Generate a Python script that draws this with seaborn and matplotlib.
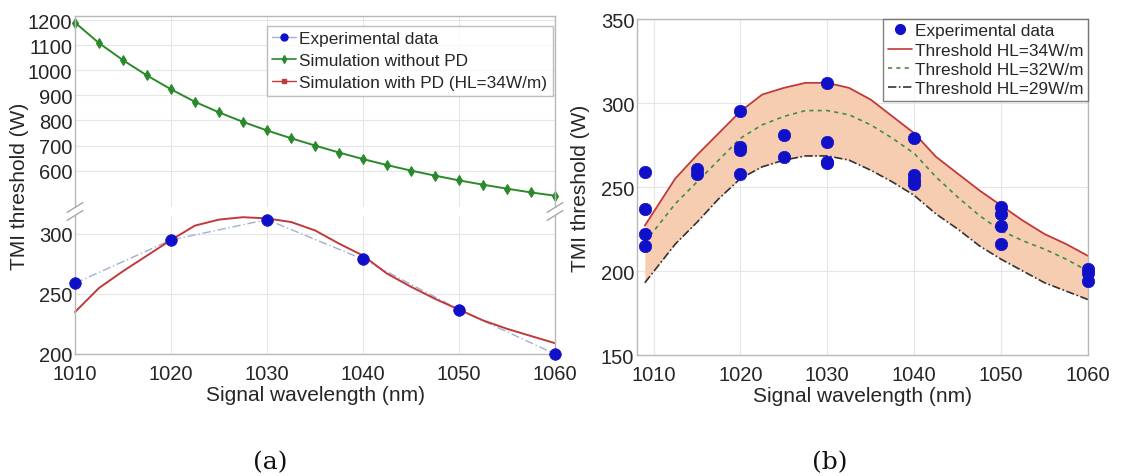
import numpy as np
import pandas as pd
import matplotlib
matplotlib.use("Agg")
import matplotlib.pyplot as plt
import seaborn as sns
from matplotlib.lines import Line2D

# ---------------- data ----------------
# panel (a)
exp_x_a = [1010, 1020, 1030, 1040, 1050, 1060]
exp_y_a = [259, 295, 312, 279, 237, 200]

sim_x = [1010, 1012.5, 1015, 1017.5, 1020, 1022.5, 1025, 1027.5, 1030, 1032.5,
         1035, 1037.5, 1040, 1042.5, 1045, 1047.5, 1050, 1052.5, 1055, 1057.5, 1060]
sim_nopd = [1190, 1108, 1040, 979, 924, 874, 832, 794, 760, 729,
            700, 672, 646, 622, 600, 580, 561, 544, 528, 513, 500]
sim_pd34 = [235, 255, 269, 282, 295, 307, 312, 314, 313, 310,
            303, 292, 282, 267, 256, 246, 237, 228, 221, 215, 209]

# panel (b)
exp_x_b = [1009, 1009, 1009, 1009, 1015, 1015, 1020, 1020, 1020, 1020, 1025, 1025,
           1030, 1030, 1030, 1030, 1040, 1040, 1040, 1040, 1050, 1050, 1050, 1050,
           1060, 1060, 1060]
exp_y_b = [259, 237, 222, 215, 261, 258, 295, 274, 272, 258, 281, 268,
           312, 277, 265, 264, 279, 257, 254, 252, 238, 234, 227, 216,
           201, 199, 194]

thr_x = [1009, 1012.5, 1015, 1017.5, 1020, 1022.5, 1025, 1027.5, 1030, 1032.5,
         1035, 1037.5, 1040, 1042.5, 1045, 1047.5, 1050, 1052.5, 1055, 1057.5, 1060]
thr_34 = [227, 255, 269, 282, 295, 305, 309, 312, 312, 309,
          302, 292, 282, 268, 258, 248, 239, 230, 222, 216, 209]
thr_32 = [217, 240, 253, 266, 279, 287, 292, 295.5, 295.5, 293,
          287, 279, 270, 256, 244, 233, 224, 218, 213, 207, 200]
thr_29 = [193, 216, 229, 243, 255, 262, 266, 268.5, 268.5, 266,
          260, 253, 245, 234, 225, 215, 207, 200, 193, 188, 183]

# ---------------- style ----------------
sns.set_theme(style="whitegrid")
plt.rcParams['font.family'] = ['Liberation Sans', 'DejaVu Sans']
TXT = "#262626"
SP = "#b8b8b8"
GRID = "#e6e6e6"
BLUE = "#1010c8"
GREEN = "#2a8a2a"
RED = "#c0393b"
FILL = "#f7cdb2"
EXPLINE = "#9fb0d0"

fig = plt.figure(figsize=(11.46, 4.77), dpi=100)
W, H = 1146, 477

def ax_at(x0, y0, x1, y1):
    return fig.add_axes([x0 / W, 1 - y1 / H, (x1 - x0) / W, (y1 - y0) / H])

def style(ax):
    ax.set_facecolor("white")
    for s in ax.spines.values():
        s.set_color(SP)
        s.set_linewidth(1.0)
    ax.grid(True, color=GRID, linewidth=0.8)
    ax.tick_params(axis="both", labelsize=14.5, colors=TXT, length=3,
                   direction="in", pad=2, color=SP)
    ax.tick_params(axis="x", pad=7)

# ---------------- panel (a) ----------------
ax_up = ax_at(75, 17, 555, 208)
ax_lo = ax_at(75, 217, 555, 355)

df_nopd = pd.DataFrame({"x": sim_x, "y": sim_nopd})
df_pd = pd.DataFrame({"x": sim_x, "y": sim_pd34})
df_exp_a = pd.DataFrame({"x": exp_x_a, "y": exp_y_a})

sns.lineplot(data=df_nopd, x="x", y="y", ax=ax_up, color=GREEN, lw=1.4,
             marker="d", markersize=5, markeredgecolor=GREEN, clip_on=False)
sns.lineplot(data=df_exp_a, x="x", y="y", ax=ax_lo, color=EXPLINE, lw=1.0,
             linestyle=(0, (6, 2, 1, 2)), clip_on=False)
sns.lineplot(data=df_pd, x="x", y="y", ax=ax_lo, color=RED, lw=1.4, clip_on=False)
sns.scatterplot(data=df_exp_a, x="x", y="y", ax=ax_lo, color=BLUE, s=70,
                edgecolor=BLUE, linewidth=0.5, zorder=5, clip_on=False)

ax_up.set_xlim(1010, 1060)
ax_lo.set_xlim(1010, 1060)
ax_up.set_ylim(455, 1216)
ax_lo.set_ylim(200, 315)
ax_up.set_yticks([600, 700, 800, 900, 1000, 1100, 1200])
ax_lo.set_yticks([200, 250, 300])
ax_lo.set_xticks([1010, 1020, 1030, 1040, 1050, 1060])
ax_up.set_xticks([1010, 1020, 1030, 1040, 1050, 1060])
style(ax_up)
style(ax_lo)
ax_up.tick_params(labelbottom=False)
ax_up.spines["bottom"].set_visible(False)
ax_lo.spines["top"].set_visible(False)
ax_up.tick_params(axis="x", length=0)
ax_up.set_xlabel("")
ax_up.set_ylabel("")
ax_lo.set_ylabel("")
ax_lo.set_xlabel("Signal wavelength (nm)", fontsize=15, color=TXT, labelpad=2)

# break marks
for xp in (75, 555):
    for dy in (-4, 4):
        yc = 212.5 + dy
        fig.add_artist(Line2D([(xp - 8) / W, (xp + 8) / W],
                              [1 - (yc + 5) / H, 1 - (yc - 5) / H],
                              color="#a8a8a8", lw=1.0))

fig.text(20 / W, 1 - 186 / H, "TMI threshold (W)", rotation=90, fontsize=15,
         color=TXT, ha="center", va="center")

# legend (a)
hA = [Line2D([], [], color=EXPLINE, lw=1.0, marker="o", markersize=5,
             markerfacecolor=BLUE, markeredgecolor=BLUE),
      Line2D([], [], color=GREEN, lw=1.2, marker="d", markersize=4,
             markerfacecolor=GREEN, markeredgecolor=GREEN),
      Line2D([], [], color=RED, lw=1.0, marker="s", markersize=3,
             markerfacecolor=RED, markeredgecolor=RED)]
lA = ["Experimental data", "Simulation without PD", "Simulation with PD (HL=34W/m)"]
legA = ax_up.legend(hA, lA, loc="upper right", bbox_to_anchor=(0.995, 0.95),
                    fontsize=12.4, frameon=True, fancybox=False, handlelength=1.4,
                    handletextpad=0.2, borderpad=0.3, labelspacing=0.42,
                    borderaxespad=0.0)
legA.get_frame().set_edgecolor("#b0b0b0")
legA.get_frame().set_linewidth(1.0)
for t in legA.get_texts():
    t.set_color(TXT)

# ---------------- panel (b) ----------------
axb = ax_at(637, 20, 1088, 356)
df_thr = pd.DataFrame({"x": thr_x, "a": thr_34, "b": thr_32, "c": thr_29})
df_exp_b = pd.DataFrame({"x": exp_x_b, "y": exp_y_b})

axb.fill_between(df_thr["x"], df_thr["c"], df_thr["a"], color=FILL, lw=0, zorder=1)
sns.lineplot(data=df_thr, x="x", y="a", ax=axb, color=RED, lw=1.3, zorder=2)
sns.lineplot(data=df_thr, x="x", y="b", ax=axb, color="#3f8f3f", lw=1.2,
             linestyle=(0, (2.5, 2.5)), zorder=2)
sns.lineplot(data=df_thr, x="x", y="c", ax=axb, color="#333333", lw=1.2,
             linestyle=(0, (5, 1.5, 1, 1.5)), zorder=2)
sns.scatterplot(data=df_exp_b, x="x", y="y", ax=axb, color=BLUE, s=80,
                edgecolor=BLUE, linewidth=0.5, zorder=5, clip_on=False)
axb.set_xlim(1008.1, 1060)
axb.set_ylim(150, 350)
axb.set_xticks([1010, 1020, 1030, 1040, 1050, 1060])
axb.set_yticks([150, 200, 250, 300, 350])
style(axb)
axb.set_xlabel("Signal wavelength (nm)", fontsize=15, color=TXT, labelpad=2)
axb.set_ylabel("TMI threshold (W)", fontsize=15, color=TXT, labelpad=8)

hB = [Line2D([], [], ls="none", marker="o", markersize=7, markerfacecolor=BLUE,
             markeredgecolor=BLUE),
      Line2D([], [], color=RED, lw=1.2),
      Line2D([], [], color="#3f8f3f", lw=1.2, linestyle=(0, (2.5, 2.5))),
      Line2D([], [], color="#333333", lw=1.2, linestyle=(0, (5, 1.5, 1, 1.5)))]
lB = ["Experimental data", "Threshold HL=34W/m", "Threshold HL=32W/m",
      "Threshold HL=29W/m"]
legB = axb.legend(hB, lB, loc="upper right", bbox_to_anchor=(1.0, 1.0),
                  fontsize=12.4, frameon=True, fancybox=False, handlelength=1.4,
                  handletextpad=0.2, borderpad=0.25, labelspacing=0.25,
                  borderaxespad=0.0)
legB.get_frame().set_edgecolor("#606060")
legB.get_frame().set_linewidth(1.0)
for t in legB.get_texts():
    t.set_color(TXT)

# captions
fig.text(270 / W, 1 - 463 / H, "(a)", fontsize=18, family="DejaVu Serif",
         ha="center", va="center", color="#111111")
fig.text(830 / W, 1 - 463 / H, "(b)", fontsize=18, family="DejaVu Serif",
         ha="center", va="center", color="#111111")

fig.savefig("out.png", dpi=100, facecolor="white")
